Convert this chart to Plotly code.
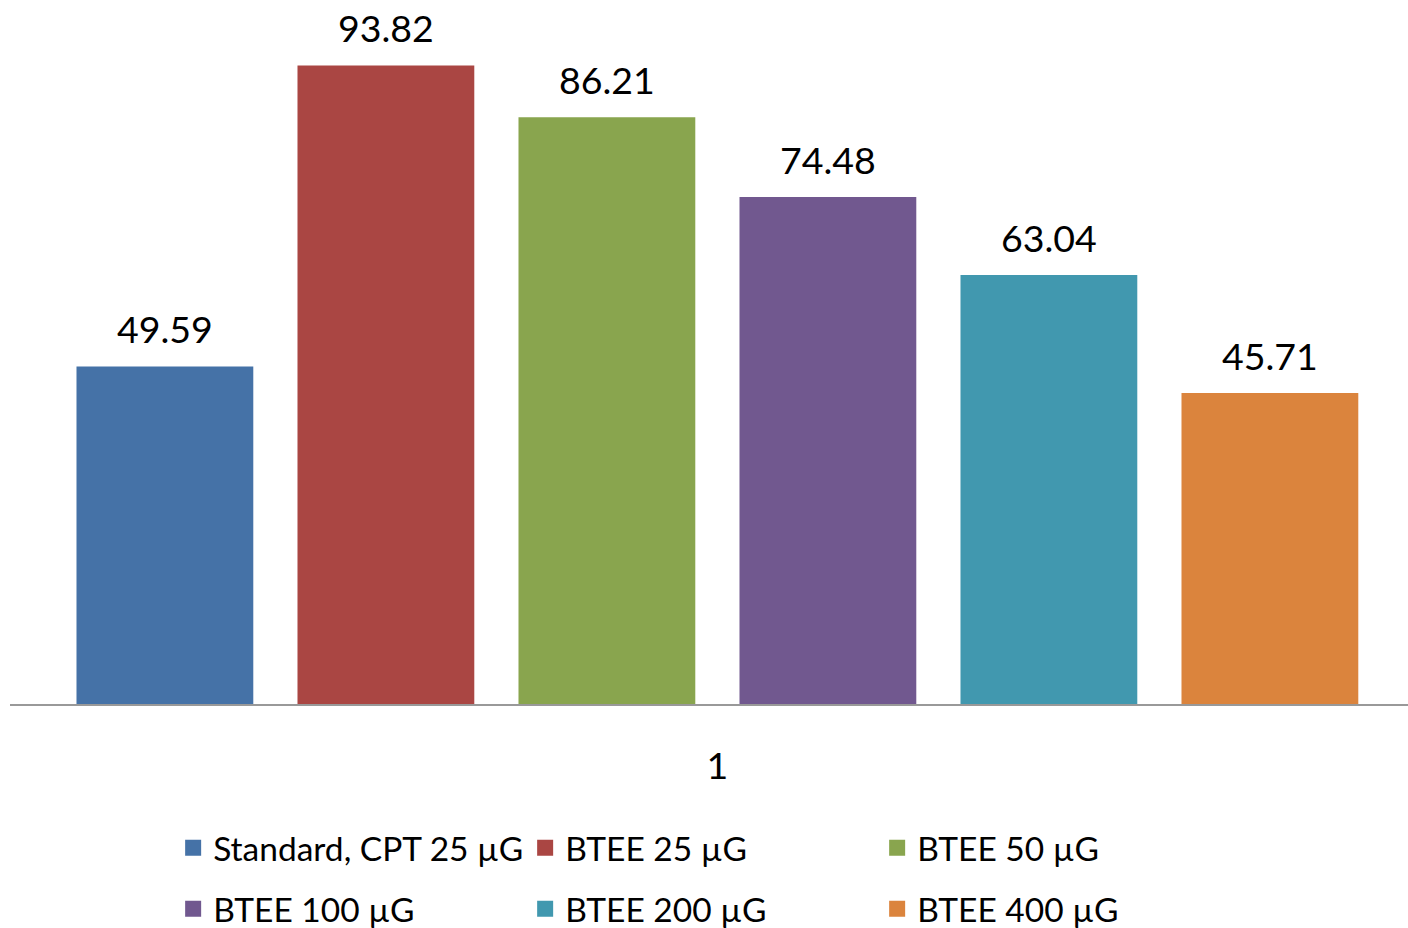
import plotly.graph_objects as go

category = ["1"]
series_names = ["Standard, CPT 25 µG", "BTEE 25 µG", "BTEE 50 µG",
                "BTEE 100 µG", "BTEE 200 µG", "BTEE 400 µG"]
series_values = [49.59, 93.82, 86.21, 74.48, 63.04, 45.71]
colors = ["#4572A7", "#AA4643", "#89A54E", "#71588F", "#4198AF", "#DB843D"]

FONT = "Lato"
fig = go.Figure()
for name, val, col in zip(series_names, series_values, colors):
    fig.add_trace(go.Bar(
        x=category, y=[val], name=name, marker=dict(color=col, line=dict(width=0)),
        showlegend=False,
    ))

# value labels: grouped scatter text (invisible markers give the label offset)
for name, val in zip(series_names, series_values):
    fig.add_trace(go.Scatter(
        x=category, y=[val], mode="markers+text", text=[f"{val:.2f}"],
        textposition="top center", cliponaxis=False,
        marker=dict(size=20.4, color="rgba(0,0,0,0)"),
        textfont=dict(size=37.5, color="black", family=FONT),
        showlegend=False, hoverinfo="skip",
    ))

# legend entries (square swatches), split over two rows, on a hidden subplot
for i, (name, col) in enumerate(zip(series_names, colors)):
    fig.add_trace(go.Scatter(
        x=[None], y=[None], mode="markers", name=name,
        marker=dict(symbol="square", size=20, color=col),
        xaxis="x2", yaxis="y2",
        legend="legend" if i < 3 else "legend2",
    ))

legend_common = dict(orientation="h", entrywidth=307, entrywidthmode="pixels",
                      font=dict(size=33.5, color="black", family=FONT),
                      bgcolor="rgba(0,0,0,0)", xanchor="left", yanchor="middle",
                      yref="container",
                      itemclick=False, itemdoubleclick=False)

fig.update_layout(
    width=1408, height=928,
    margin=dict(l=10, r=0, t=0, b=224),
    plot_bgcolor="white", paper_bgcolor="white",
    barmode="group", bargap=0.0515, bargroupgap=0.2,
    scattermode="group", scattergap=0.0515,
    font=dict(family=FONT, color="black"),
    xaxis=dict(type="category", range=[-0.506, 0.494], showline=True,
               linecolor="#999999", linewidth=2, ticks="", showgrid=False,
               tickfont=dict(size=37.5, family=FONT, color="black"),
               ticklabelstandoff=28),
    yaxis=dict(range=[0, 103.44], visible=False, showgrid=False),
    xaxis2=dict(overlaying="x", visible=False),
    yaxis2=dict(overlaying="y", visible=False),
    legend=dict(x=0.1167, y=0.0862, **legend_common),
    legend2=dict(x=0.1167, y=0.02047, **legend_common),
)

fig.write_html("out.html", config={"displayModeBar": False},
               post_script="document.body.style.margin='0';document.body.style.overflow='hidden';")
